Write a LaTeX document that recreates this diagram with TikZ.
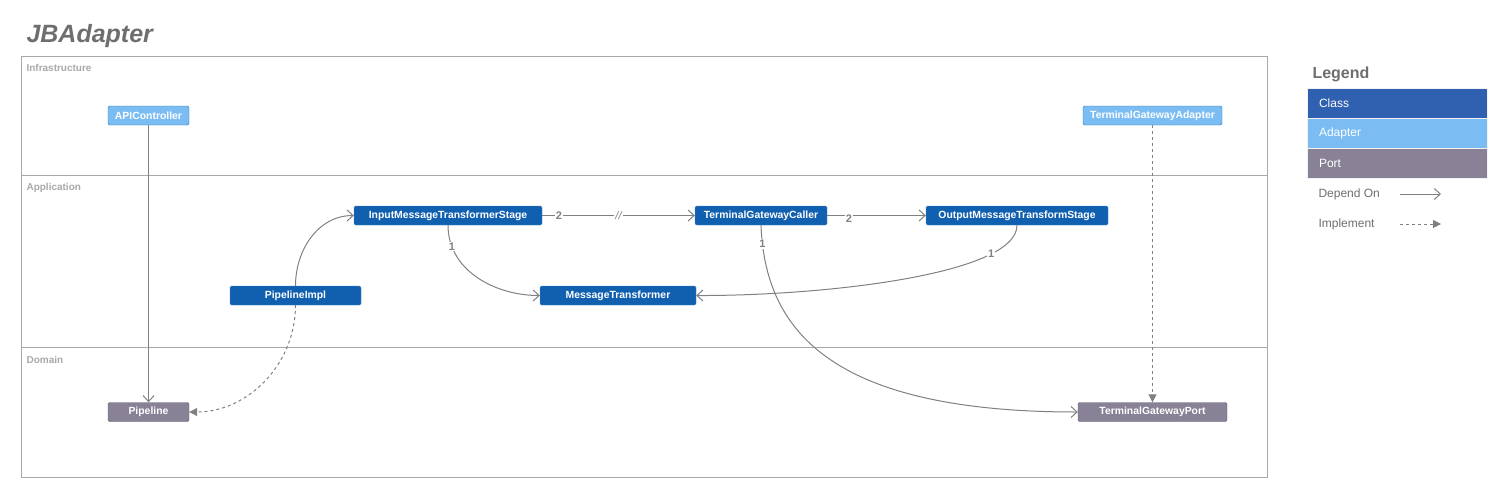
\documentclass[tikz,border=0pt]{standalone}
\usepackage{fontspec}
\setmainfont{Liberation Sans}
\usetikzlibrary{arrows.meta}

\definecolor{classblue}{RGB}{17,96,176}
\definecolor{legendblue}{RGB}{48,96,176}
\definecolor{adapterblue}{RGB}{123,189,242}
\definecolor{adapteredge}{RGB}{40,120,190}
\definecolor{portgray}{RGB}{137,129,150}
\definecolor{portedge}{RGB}{100,92,112}
\definecolor{edgegray}{RGB}{128,128,128}
\definecolor{lanegray}{RGB}{168,168,168}
\definecolor{titlegray}{RGB}{110,110,110}

\tikzset{
  box/.style={rounded corners=1.5pt, minimum height=19pt, inner sep=0pt,
    text=white, font=\fontsize{10.4}{11}\selectfont\bfseries},
  classbox/.style={box, fill=classblue, draw=classblue!80!white},
  adapterbox/.style={box, fill=adapterblue, draw=adapteredge},
  portbox/.style={box, fill=portgray, draw=portedge},
  dep/.style={draw=edgegray, line width=1pt, -{Straight Barb[length=6pt,width=11pt]}},
  impl/.style={draw=edgegray, line width=1pt, dashed, -{Triangle[length=8pt,width=8pt]}},
  mult/.style={fill=white, inner sep=1pt, text=edgegray, font=\fontsize{11}{12}\selectfont\bfseries},
  lane/.style={draw=lanegray, line width=0.9pt},
  lanelabel/.style={anchor=west, text=lanegray, font=\fontsize{10}{11}\selectfont\bfseries},
  legendbox/.style={minimum height=30pt, text width=156pt, inner xsep=12pt, align=left,
    text=white, font=\fontsize{12}{13}\selectfont, draw=white!85!lanegray},
  legendtext/.style={anchor=west, text=titlegray, font=\fontsize{12}{13}\selectfont}
}

\begin{document}
\begin{tikzpicture}[x=1pt, y=-1pt]
    \useasboundingbox (0,0) rectangle (1508,499);

    % Title
    \node[anchor=west, text=titlegray, font=\fontsize{25}{27}\selectfont\bfseries\itshape] (title) at (23,36) {JBAdapter};

    % Lanes
    \draw[lane] (21,56) rectangle (1267,175);
    \draw[lane] (21,175) rectangle (1267,347);
    \draw[lane] (21,347) rectangle (1267,477);
    \node[lanelabel] (infra) at (23,68) {Infrastructure};
    \node[lanelabel] (appl) at (23,188) {Application};
    \node[lanelabel] (dom) at (23,360) {Domain};

    % Infrastructure
    \node[adapterbox, minimum width=81pt] (api) at (148.5,115.5) {APIController};
    \node[adapterbox, minimum width=139pt] (tga) at (1152.5,115.5) {TerminalGatewayAdapter};

    % Application
    \node[classbox, minimum width=188pt] (imts) at (448,215.5) {InputMessageTransformerStage};
    \node[classbox, minimum width=132pt] (tgc) at (761,215.5) {TerminalGatewayCaller};
    \node[classbox, minimum width=182pt] (omts) at (1017,215.5) {OutputMessageTransformStage};
    \node[classbox, minimum width=131pt] (pimpl) at (295.5,295.5) {PipelineImpl};
    \node[classbox, minimum width=156pt] (mt) at (618,295.5) {MessageTransformer};

    % Domain
    \node[portbox, minimum width=81pt] (pipe) at (148.5,412) {Pipeline};
    \node[portbox, minimum width=149pt] (tgp) at (1152.5,412) {TerminalGatewayPort};

    % Connectors
    \draw[dep] (api) -- (pipe);
    \draw[impl] (tga) -- (tgp);
    \draw[dep] (pimpl.north) to[out=90, in=180] (imts.west);
    \draw[impl] (pimpl.south) to[out=-90, in=0] (pipe.east);
    \draw[dep] (imts.south) to[out=-90, in=180] node[mult, pos=0.17] {1} (mt.west);
    \draw[dep] (imts.east) -- node[mult, pos=0.11] {2} node[mult, pos=0.5, font=\fontsize{11}{12}\selectfont\itshape] {//} (tgc.west);
    \draw[dep] (tgc.east) -- node[mult, pos=0.22, yshift=-3pt] {2} (omts.west);
    \draw[dep] (omts.south) .. controls (1017,275) and (820,296) .. node[mult, pos=0.22] {1} (mt.east);
    \draw[dep] (tgc.south) .. controls (765,330) and (830,412) .. node[mult, pos=0.06] {1} (tgp.west);

    % Legend
    \node[anchor=west, text=titlegray, font=\fontsize{16}{17}\selectfont\bfseries] (legend) at (1309,74) {Legend};
    \node[legendbox, fill=legendblue] (lclass) at (1397,103) {Class};
    \node[legendbox, fill=adapterblue] (ladapter) at (1397,133) {Adapter};
    \node[legendbox, fill=portgray] (lport) at (1397,163) {Port};
    \node[legendtext] (ldep) at (1315,194) {Depend On};
    \node[legendtext] (limpl) at (1315,224) {Implement};
    \coordinate (depa) at (1400,194);
    \coordinate (depb) at (1441,194);
    \coordinate (impa) at (1400,224);
    \coordinate (impb) at (1441,224);
    \draw[dep] (depa) -- (depb);
    \draw[impl] (impa) -- (impb);
\end{tikzpicture}
\end{document}
